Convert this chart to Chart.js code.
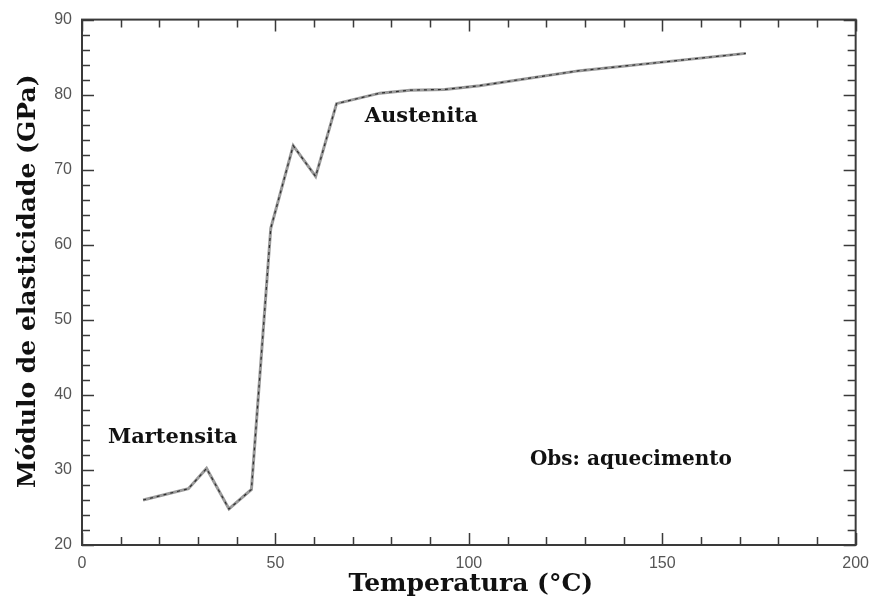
<!DOCTYPE html>
<html>
<head>
<meta charset="utf-8">
<script src="https://cdn.jsdelivr.net/npm/chart.js@4/dist/chart.umd.min.js"></script>
<style>
  html, body { margin: 0; padding: 0; background: #ffffff; }
  #wrap { width: 878px; height: 603px; }
</style>
</head>
<body>
<div id="wrap"><canvas id="c" width="878" height="603"></canvas></div>
<script>
// ---- data ----
const temperatures = [15.8, 27.5, 32.2, 38.0, 43.8, 48.8, 54.6, 60.4, 65.8, 77.0, 84.8, 93.8, 102.8, 128.7, 149.4, 171.6];
const modulus      = [26.0, 27.5, 30.2, 24.8, 27.4, 62.2, 73.2, 69.1, 78.8, 80.2, 80.6, 80.7, 81.2, 83.2, 84.3, 85.5];
const xTicks = [0, 50, 100, 150, 200];
const yTicks = [20, 30, 40, 50, 60, 70, 80, 90];
const xTitle = 'Temperatura (°C)';
const yTitle = 'Módulo de elasticidade (GPa)';
const labelTexts = ['Martensita', 'Austenita', 'Obs: aquecimento'];
const labelX = [6.7, 73.1, 115.8];
const labelY = [33.6, 76.3, 30.6];

const points = temperatures.map((t, i) => ({ x: t, y: modulus[i] }));

const frameColor = '#3a3a3a';
const serif = '"DejaVu Serif", "Liberation Serif", serif';

const framePlugin = {
  id: 'frame',
  beforeDatasetsDraw(chart) {
    const { ctx, chartArea: a, scales } = chart;
    const xs = scales.x, ys = scales.y;
    ctx.save();
    ctx.strokeStyle = frameColor;
    ctx.lineWidth = 1.5;
    ctx.beginPath();
    for (let v = 0; v <= 200; v += 10) {
      const px = Math.round(xs.getPixelForValue(v)) + 0.5;
      const len = (v % 50 === 0) ? 12 : 8;
      ctx.moveTo(px, a.bottom); ctx.lineTo(px, a.bottom - len);
      ctx.moveTo(px, a.top); ctx.lineTo(px, a.top + len);
    }
    for (let v = 20; v <= 90; v += 2) {
      const py = Math.round(ys.getPixelForValue(v)) + 0.5;
      const len = (v % 10 === 0) ? 12 : 8;
      ctx.moveTo(a.left, py); ctx.lineTo(a.left + len, py);
      ctx.moveTo(a.right, py); ctx.lineTo(a.right - len, py);
    }
    ctx.stroke();
    ctx.lineWidth = 2;
    ctx.strokeRect(a.left, a.top, a.right - a.left, a.bottom - a.top);
    ctx.restore();
  },
  afterDraw(chart) {
    const { ctx, chartArea: a, scales } = chart;
    ctx.save();
    ctx.fillStyle = '#111';
    ctx.font = 'bold 25px ' + serif;
    ctx.textAlign = 'center';
    ctx.textBaseline = 'alphabetic';
    ctx.fillText(xTitle, (a.left + a.right) / 2 + 2, 591);
    ctx.save();
    ctx.translate(35, (a.top + a.bottom) / 2 - 1);
    ctx.rotate(-Math.PI / 2);
    ctx.fillText(yTitle, 0, 0);
    ctx.restore();
    ctx.textAlign = 'left';
    labelTexts.forEach((t, i) => {
      ctx.font = (i === 2 ? 'bold 20px ' : 'bold 21px ') + serif;
      ctx.fillText(t, scales.x.getPixelForValue(labelX[i]), scales.y.getPixelForValue(labelY[i]));
    });
    ctx.restore();
  }
};

new Chart(document.getElementById('c'), {
  type: 'line',
  data: {
    datasets: [
      {
        data: points,
        borderColor: '#2e2e2e',
        borderWidth: 1.2,
        borderDash: [3, 4],
        pointRadius: 0,
        tension: 0,
        fill: false,
        order: 0
      },
      {
        data: points,
        borderColor: '#9a9a9a',
        borderWidth: 3,
        pointRadius: 0,
        tension: 0,
        fill: false,
        order: 1
      }
    ]
  },
  options: {
    responsive: false,
    animation: false,
    devicePixelRatio: 1,
    layout: { padding: { top: 19, right: 22, left: 0, bottom: 0 } },
    plugins: { legend: { display: false }, tooltip: { enabled: false } },
    scales: {
      x: {
        type: 'linear',
        min: 0, max: 200,
        afterBuildTicks(s) { s.ticks = xTicks.map(v => ({ value: v })); },
        afterFit(s) { s.height = 58; },
        grid: { display: false, drawTicks: false },
        border: { display: false },
        ticks: {
          padding: 9,
          color: '#555',
          font: { family: '"Liberation Sans", Arial, sans-serif', size: 16 },
          maxRotation: 0
        }
      },
      y: {
        type: 'linear',
        min: 20, max: 90,
        afterBuildTicks(s) { s.ticks = yTicks.map(v => ({ value: v })); },
        afterFit(s) { s.width = 82; },
        grid: { display: false, drawTicks: false },
        border: { display: false },
        ticks: {
          padding: 10,
          color: '#555',
          font: { family: '"Liberation Sans", Arial, sans-serif', size: 16 }
        }
      }
    }
  },
  plugins: [framePlugin]
});
</script>
</body>
</html>
